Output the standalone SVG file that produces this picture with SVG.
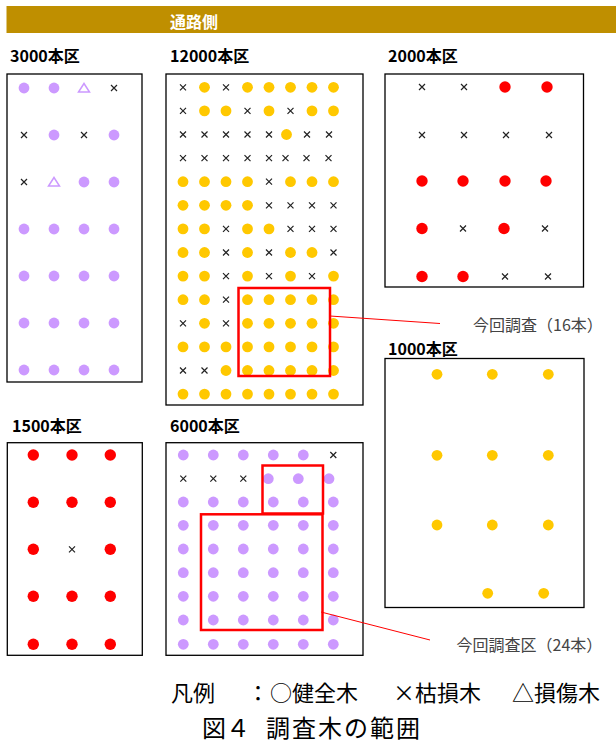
<svg xmlns="http://www.w3.org/2000/svg" width="616" height="745" viewBox="0 0 616 745">
<style>
.box{fill:#fff;stroke:#000;stroke-width:1.3}
.lbl{font-family:"Noto Sans CJK JP","Noto Sans",sans-serif;font-weight:bold;font-size:16px;fill:#000}
.sel{fill:none;stroke:#ff0000;stroke-width:2.5}
.lead{stroke:#ff0000;stroke-width:1;fill:none}
.note{font-family:"Noto Sans CJK JP",sans-serif;font-size:16px;fill:#444}
.leg{font-family:"Noto Sans CJK JP",sans-serif;font-size:22px;fill:#000}
.ttl{font-family:"Noto Sans CJK JP",sans-serif;font-size:24px;fill:#000}
</style>
<defs>
<circle id="p" r="5.4" fill="#cc99ff"/>
<circle id="y" r="5.4" fill="#ffc800"/>
<circle id="r" r="5.7" fill="#ff0000"/>
<path id="x" d="M-3,-3L3,3M3,-3L-3,3" stroke="#222" stroke-width="1.2" fill="none"/>
<path id="t" d="M0,-4.5L5.5,4L-5.5,4Z" fill="none" stroke="#cc99ff" stroke-width="1.5"/>
</defs>

<g id="header">
<rect x="6.5" y="6" width="609.5" height="27" fill="#bf8f00"/>
<text x="170" y="28" font-family="Noto Sans CJK JP,sans-serif" font-weight="bold" font-size="16" fill="#fff">通路側</text>
</g>

<g id="block-3000">
<text class="lbl" x="10" y="62">3000本区</text>
<rect class="box" x="7" y="74" width="135" height="308"/>
<use href="#p" x="24" y="88"/><use href="#p" x="54" y="88"/><use href="#t" x="84" y="88"/><use href="#x" x="114" y="88"/>
<use href="#x" x="24" y="135"/><use href="#p" x="54" y="135"/><use href="#x" x="84" y="135"/><use href="#p" x="114" y="135"/>
<use href="#x" x="24" y="182"/><use href="#t" x="54" y="182"/><use href="#p" x="84" y="182"/><use href="#p" x="114" y="182"/>
<use href="#p" x="24" y="229"/><use href="#p" x="54" y="229"/><use href="#p" x="84" y="229"/><use href="#p" x="114" y="229"/>
<use href="#p" x="24" y="276"/><use href="#p" x="54" y="276"/><use href="#p" x="84" y="276"/><use href="#p" x="114" y="276"/>
<use href="#p" x="24" y="323"/><use href="#p" x="54" y="323"/><use href="#p" x="84" y="323"/><use href="#p" x="114" y="323"/>
<use href="#p" x="24" y="370"/><use href="#p" x="54" y="370"/><use href="#p" x="84" y="370"/><use href="#p" x="114" y="370"/>
</g>

<g id="block-12000">
<text class="lbl" x="170" y="62">12000本区</text>
<rect class="box" x="166" y="74" width="197" height="331"/>
<use href="#x" x="183" y="87.3"/><use href="#y" x="204.5" y="87.3"/><use href="#x" x="226" y="87.3"/><use href="#y" x="247.5" y="87.3"/><use href="#y" x="269" y="87.3"/><use href="#y" x="290.5" y="87.3"/><use href="#y" x="312" y="87.3"/><use href="#y" x="333.5" y="87.3"/>
<use href="#x" x="183" y="110.9"/><use href="#y" x="204.5" y="110.9"/><use href="#y" x="226" y="110.9"/><use href="#x" x="247.5" y="110.9"/><use href="#y" x="269" y="110.9"/><use href="#x" x="290.5" y="110.9"/><use href="#y" x="312" y="110.9"/><use href="#y" x="333.5" y="110.9"/>
<use href="#x" x="183" y="134.5"/><use href="#x" x="204.5" y="134.5"/><use href="#x" x="226" y="134.5"/><use href="#x" x="247.5" y="134.5"/><use href="#x" x="269" y="134.5"/><use href="#y" x="286.5" y="134.5"/><use href="#x" x="307" y="134.5"/><use href="#x" x="329" y="134.5"/>
<use href="#x" x="183" y="158.1"/><use href="#x" x="204.5" y="158.1"/><use href="#x" x="226" y="158.1"/><use href="#x" x="247.5" y="158.1"/><use href="#x" x="269" y="158.1"/><use href="#x" x="285.5" y="158.1"/><use href="#x" x="306.5" y="158.1"/><use href="#x" x="328.5" y="158.1"/>
<use href="#y" x="183" y="181.7"/><use href="#y" x="204.5" y="181.7"/><use href="#y" x="226" y="181.7"/><use href="#y" x="247.5" y="181.7"/><use href="#x" x="269" y="181.7"/><use href="#y" x="290.5" y="181.7"/><use href="#y" x="312" y="181.7"/><use href="#y" x="333.5" y="181.7"/>
<use href="#y" x="183" y="205.3"/><use href="#y" x="204.5" y="205.3"/><use href="#y" x="226" y="205.3"/><use href="#y" x="247.5" y="205.3"/><use href="#x" x="269" y="205.3"/><use href="#x" x="290.5" y="205.3"/><use href="#x" x="312" y="205.3"/><use href="#x" x="333.5" y="205.3"/>
<use href="#y" x="183" y="228.9"/><use href="#y" x="204.5" y="228.9"/><use href="#x" x="226" y="228.9"/><use href="#y" x="247.5" y="228.9"/><use href="#y" x="269" y="228.9"/><use href="#x" x="290.5" y="228.9"/><use href="#x" x="312" y="228.9"/><use href="#x" x="333.5" y="228.9"/>
<use href="#y" x="183" y="252.5"/><use href="#y" x="204.5" y="252.5"/><use href="#x" x="226" y="252.5"/><use href="#y" x="247.5" y="252.5"/><use href="#x" x="269" y="252.5"/><use href="#y" x="290.5" y="252.5"/><use href="#y" x="312" y="252.5"/><use href="#x" x="333.5" y="252.5"/>
<use href="#y" x="183" y="276.1"/><use href="#y" x="204.5" y="276.1"/><use href="#x" x="226" y="276.1"/><use href="#y" x="247.5" y="276.1"/><use href="#x" x="269" y="276.1"/><use href="#y" x="290.5" y="276.1"/><use href="#x" x="312" y="276.1"/><use href="#y" x="333.5" y="276.1"/>
<use href="#y" x="183" y="299.7"/><use href="#y" x="204.5" y="299.7"/><use href="#x" x="226" y="299.7"/><use href="#y" x="247.5" y="299.7"/><use href="#y" x="269" y="299.7"/><use href="#y" x="290.5" y="299.7"/><use href="#y" x="312" y="299.7"/><use href="#y" x="333.5" y="299.7"/>
<use href="#x" x="183" y="323.3"/><use href="#y" x="204.5" y="323.3"/><use href="#x" x="226" y="323.3"/><use href="#y" x="247.5" y="323.3"/><use href="#y" x="269" y="323.3"/><use href="#y" x="290.5" y="323.3"/><use href="#y" x="312" y="323.3"/><use href="#y" x="333.5" y="323.3"/>
<use href="#y" x="183" y="346.9"/><use href="#y" x="204.5" y="346.9"/><use href="#y" x="226" y="346.9"/><use href="#y" x="247.5" y="346.9"/><use href="#y" x="269" y="346.9"/><use href="#y" x="290.5" y="346.9"/><use href="#y" x="312" y="346.9"/><use href="#y" x="333.5" y="346.9"/>
<use href="#x" x="183" y="370.5"/><use href="#x" x="204.5" y="370.5"/><use href="#y" x="226" y="370.5"/><use href="#y" x="247.5" y="370.5"/><use href="#y" x="269" y="370.5"/><use href="#y" x="290.5" y="370.5"/><use href="#y" x="312" y="370.5"/><use href="#y" x="333.5" y="370.5"/>
<use href="#y" x="183" y="394.1"/><use href="#y" x="204.5" y="394.1"/><use href="#y" x="226" y="394.1"/><use href="#y" x="247.5" y="394.1"/><use href="#y" x="269" y="394.1"/><use href="#y" x="290.5" y="394.1"/><use href="#y" x="312" y="394.1"/><use href="#y" x="333.5" y="394.1"/>
<rect class="sel" x="238.5" y="288" width="91.5" height="88"/>
</g>

<g id="block-2000">
<text class="lbl" x="388" y="62">2000本区</text>
<rect class="box" x="385" y="74" width="198.5" height="213"/>
<use href="#x" x="422" y="87"/><use href="#x" x="464" y="87"/><use href="#r" x="505" y="87"/><use href="#r" x="547" y="87"/>
<use href="#x" x="422" y="135"/><use href="#x" x="464" y="135"/><use href="#x" x="506" y="135"/><use href="#x" x="549" y="135"/>
<use href="#r" x="422" y="181"/><use href="#r" x="463" y="181"/><use href="#r" x="505" y="181"/><use href="#r" x="546" y="181"/>
<use href="#r" x="422" y="228.5"/><use href="#x" x="463" y="228.5"/><use href="#r" x="504" y="228.5"/><use href="#x" x="545" y="228.5"/>
<use href="#r" x="422" y="276.5"/><use href="#r" x="463" y="276.5"/><use href="#x" x="505" y="276.5"/><use href="#x" x="548" y="276.5"/>
</g>

<g id="block-1000">
<text class="lbl" x="388" y="354.5">1000本区</text>
<rect class="box" x="385" y="358.5" width="199" height="249"/>
<use href="#y" x="437" y="374.3"/><use href="#y" x="492.3" y="374.3"/><use href="#y" x="548.3" y="374.3"/>
<use href="#y" x="437" y="455.3"/><use href="#y" x="492.3" y="455.3"/><use href="#y" x="548.3" y="455.3"/>
<use href="#y" x="437" y="525"/><use href="#y" x="492.3" y="525"/><use href="#y" x="548.3" y="525"/>
<use href="#y" x="487.7" y="593.3"/><use href="#y" x="543.7" y="593.3"/>
</g>

<g id="block-1500">
<text class="lbl" x="12" y="431.5">1500本区</text>
<rect class="box" x="7.3" y="442.7" width="135" height="212.6"/>
<use href="#r" x="33.3" y="455"/><use href="#r" x="72" y="455"/><use href="#r" x="110.3" y="455"/>
<use href="#r" x="33.3" y="502.3"/><use href="#r" x="72" y="502.3"/><use href="#r" x="110.3" y="502.3"/>
<use href="#r" x="33.3" y="549.3"/><use href="#x" x="72" y="549.3"/><use href="#r" x="110.3" y="549.3"/>
<use href="#r" x="33.3" y="596.3"/><use href="#r" x="72" y="596.3"/><use href="#r" x="110.3" y="596.3"/>
<use href="#r" x="33.3" y="644.3"/><use href="#r" x="72" y="644.3"/><use href="#r" x="110.3" y="644.3"/>
</g>

<g id="block-6000">
<text class="lbl" x="170" y="431.5">6000本区</text>
<rect class="box" x="166" y="442.7" width="197" height="212.6"/>
<use href="#p" x="183.3" y="455"/><use href="#p" x="213.3" y="455"/><use href="#p" x="243.3" y="455"/><use href="#p" x="273.3" y="455"/><use href="#p" x="303.3" y="455"/><use href="#x" x="333.3" y="455"/>
<use href="#x" x="183.3" y="478.7"/><use href="#x" x="213.3" y="478.7"/><use href="#x" x="243.3" y="478.7"/><use href="#p" x="268.3" y="478.7"/><use href="#p" x="298.3" y="478.7"/><use href="#p" x="329" y="478.7"/>
<use href="#p" x="183.3" y="502"/><use href="#p" x="213.3" y="502"/><use href="#p" x="243.3" y="502"/><use href="#p" x="273.3" y="502"/><use href="#p" x="303.3" y="502"/><use href="#p" x="333.3" y="502"/>
<use href="#p" x="183.3" y="525.3"/><use href="#p" x="213.3" y="525.3"/><use href="#p" x="243.3" y="525.3"/><use href="#p" x="273.3" y="525.3"/><use href="#p" x="303.3" y="525.3"/><use href="#p" x="333.3" y="525.3"/>
<use href="#p" x="183.3" y="549"/><use href="#p" x="213.3" y="549"/><use href="#p" x="243.3" y="549"/><use href="#p" x="273.3" y="549"/><use href="#p" x="303.3" y="549"/><use href="#p" x="333.3" y="549"/>
<use href="#p" x="183.3" y="572.7"/><use href="#p" x="213.3" y="572.7"/><use href="#p" x="243.3" y="572.7"/><use href="#p" x="273.3" y="572.7"/><use href="#p" x="303.3" y="572.7"/><use href="#p" x="333.3" y="572.7"/>
<use href="#p" x="183.3" y="596.3"/><use href="#p" x="213.3" y="596.3"/><use href="#p" x="243.3" y="596.3"/><use href="#p" x="273.3" y="596.3"/><use href="#p" x="303.3" y="596.3"/><use href="#p" x="333.3" y="596.3"/>
<use href="#p" x="183.3" y="620"/><use href="#p" x="213.3" y="620"/><use href="#p" x="243.3" y="620"/><use href="#p" x="273.3" y="620"/><use href="#p" x="303.3" y="620"/><use href="#p" x="333.3" y="620"/>
<use href="#p" x="183.3" y="644.3"/><use href="#p" x="213.3" y="644.3"/><use href="#p" x="243.3" y="644.3"/><use href="#p" x="273.3" y="644.3"/><use href="#p" x="303.3" y="644.3"/><use href="#p" x="333.3" y="644.3"/>
<rect class="sel" x="262.5" y="465.5" width="60.5" height="48"/>
<rect class="sel" x="201" y="514.3" width="121.5" height="115.7"/>
</g>

<g id="connectors">
<line class="lead" x1="330" y1="316" x2="440" y2="323.5"/>
<line class="lead" x1="321" y1="612" x2="430" y2="640"/>
</g>

<g id="callouts">
<text class="note" x="473" y="330.5">今回調査（16本）</text>
<text class="note" x="456.5" y="651">今回調査区（24本）</text>
</g>

<g id="legend">
<text class="leg" y="701"><tspan x="171">凡例</tspan><tspan x="247">：</tspan><tspan x="270">○健全木</tspan><tspan x="393">×枯損木</tspan><tspan x="512">△損傷木</tspan></text>
<text class="ttl" y="737"><tspan x="202">図４</tspan><tspan x="266" textLength="154" lengthAdjust="spacing">調査木の範囲</tspan></text>
</g>
</svg>
